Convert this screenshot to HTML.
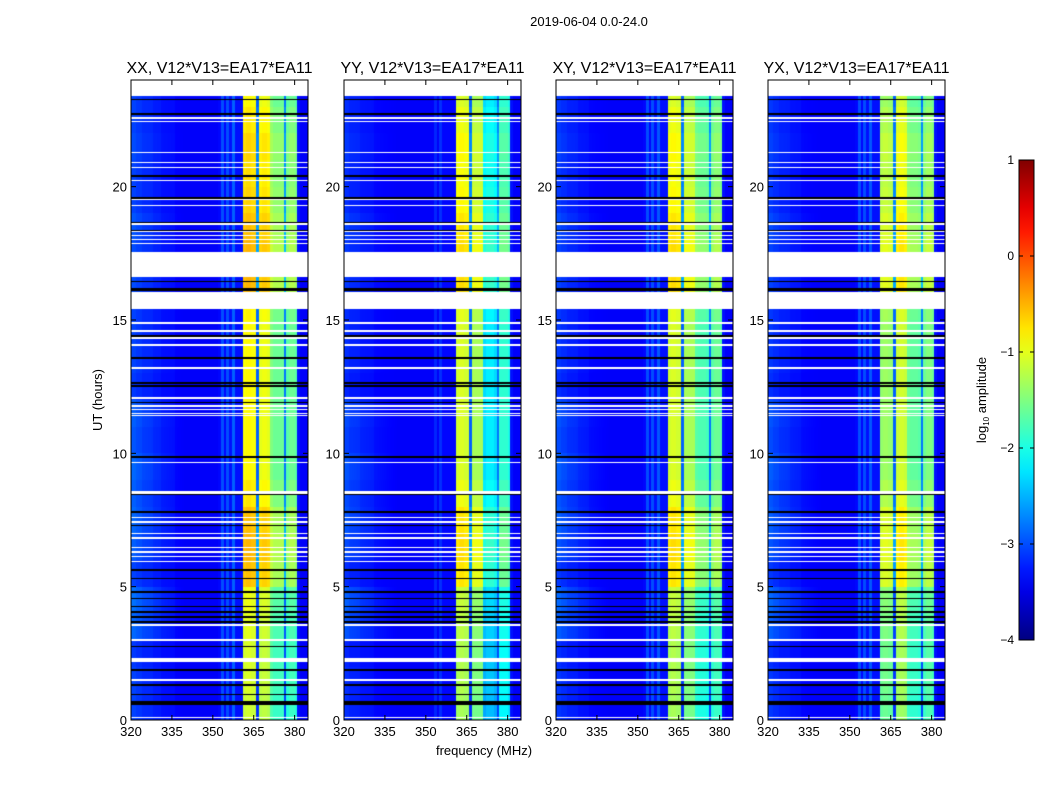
<!DOCTYPE html>
<html><head><meta charset="utf-8">
<style>
body{margin:0;background:#fff;width:1050px;height:800px;overflow:hidden;font-family:"Liberation Sans",sans-serif;}
</style></head>
<body>
<svg id="fig" width="1050" height="800" xmlns="http://www.w3.org/2000/svg" style="position:absolute;left:0;top:0">
<text x="589" y="26" font-size="13" text-anchor="middle" font-family="Liberation Sans">2019-06-04 0.0-24.0</text>
<text x="484" y="755" font-size="13" text-anchor="middle" font-family="Liberation Sans">frequency (MHz)</text>
<text x="102" y="400" font-size="13" text-anchor="middle" font-family="Liberation Sans" transform="rotate(-90 102 400)">UT (hours)</text>
<g id="panels"></g>
<g id="cbar"></g>
</svg>
<script>
// ---- data ----
const panelTitles = ["XX, V12*V13=EA17*EA11","YY, V12*V13=EA17*EA11","XY, V12*V13=EA17*EA11","YX, V12*V13=EA17*EA11"];
const xTicks = [320,335,350,365,380];
const yTicks = [0,5,10,15,20];
const cbTicks = [-4,-3,-2,-1,0,1];
// log10 amplitude per 1-MHz channel, 320..384 MHz
const specXX = [-3.15,-3.15,-3.2,-3.2,-3.25,-3.25,-3.25,-3.25,-3.3,-3.3,-3.3,-3.35,-3.35,-3.35,-3.35,-3.35,-3.4,-3.4,-3.4,-3.4,-3.4,-3.4,-3.4,-3.4,-3.4,-3.4,-3.4,-3.4,-3.4,-3.4,-3.4,-3.4,-3.35,-3.0,-3.35,-3.0,-3.3,-2.9,-3.3,-3.3,-3.3,-0.9,-0.85,-0.85,-0.9,-0.9,-2.9,-1.0,-0.95,-0.95,-1.0,-1.5,-1.6,-1.6,-1.6,-1.6,-2.8,-1.7,-1.6,-1.6,-1.7,-3.3,-3.4,-3.4,-3.4];
const specYY = [-3.25,-3.25,-3.3,-3.3,-3.3,-3.3,-3.35,-3.35,-3.35,-3.35,-3.35,-3.4,-3.4,-3.4,-3.4,-3.4,-3.4,-3.4,-3.4,-3.4,-3.4,-3.4,-3.4,-3.4,-3.4,-3.4,-3.4,-3.4,-3.4,-3.4,-3.4,-3.4,-3.4,-3.2,-3.4,-3.15,-3.35,-3.35,-3.35,-3.35,-3.35,-1.1,-1.05,-1.05,-1.1,-1.1,-2.9,-1.3,-1.3,-1.3,-1.3,-2.3,-2.2,-2.2,-2.2,-2.3,-2.8,-1.9,-1.9,-1.9,-2.0,-3.3,-3.4,-3.4,-3.4];
const specXY = [-3.2,-3.2,-3.25,-3.25,-3.3,-3.3,-3.3,-3.3,-3.35,-3.35,-3.35,-3.35,-3.4,-3.4,-3.4,-3.4,-3.4,-3.4,-3.4,-3.4,-3.4,-3.4,-3.4,-3.4,-3.4,-3.4,-3.4,-3.4,-3.4,-3.4,-3.4,-3.4,-3.35,-3.0,-3.35,-3.0,-3.3,-2.95,-3.3,-3.3,-3.3,-1.1,-1.05,-1.05,-1.1,-1.1,-2.9,-1.3,-1.3,-1.3,-1.3,-1.7,-1.75,-1.75,-1.75,-1.8,-2.8,-1.7,-1.6,-1.6,-1.7,-3.3,-3.4,-3.4,-3.4];
const specYX = [-3.2,-3.2,-3.25,-3.25,-3.3,-3.3,-3.3,-3.3,-3.35,-3.35,-3.35,-3.35,-3.4,-3.4,-3.4,-3.4,-3.4,-3.4,-3.4,-3.4,-3.4,-3.4,-3.4,-3.4,-3.4,-3.4,-3.4,-3.4,-3.4,-3.4,-3.4,-3.4,-3.35,-3.0,-3.35,-3.0,-3.3,-2.95,-3.3,-3.3,-3.3,-1.4,-1.35,-1.35,-1.4,-1.4,-2.9,-1.15,-1.1,-1.1,-1.15,-1.6,-1.65,-1.65,-1.65,-1.7,-2.8,-1.6,-1.5,-1.5,-1.6,-3.3,-3.4,-3.4,-3.4];
// per-hour offsets (hour 0..23)
const bandGain = [-0.25,-0.2,-0.2,-0.15,-0.1,0.3,0.35,0.3,0.1,0.0,0.0,0.0,0.0,0.0,0.0,0.05,0.35,0.35,0.3,0.2,0.15,0.2,0.1,0.0];
const lowGain  = [0.1,0.1,0.05,0.3,0.35,0.1,0.25,0.3,0.25,0.3,0.2,0.25,0.05,0.1,0.1,0.1,0.15,0.15,0.2,0.1,0.1,0.15,0.1,0.1];
// flagged (white) hour intervals
const whiteStart = [23.4,22.55,22.42,21.25,20.87,20.7,20.2,19.5,19.27,18.57,18.3,18.15,18.0,17.85,16.6,15.4,14.86,14.56,14.3,14.04,13.18,12.05,11.75,11.63,11.48,11.4,9.62,8.47,7.58,7.4,6.98,6.8,6.45,6.27,6.1,5.93,3.54,2.98,2.18,1.48,0.08];
const whiteEnd   = [24.0,22.6,22.47,21.3,20.92,20.75,20.25,19.55,19.32,18.62,18.35,18.2,18.05,17.9,17.55,16.05,14.91,14.61,14.35,14.09,13.23,12.1,11.8,11.68,11.53,11.45,9.67,8.6,7.63,7.45,7.03,6.85,6.5,6.32,6.15,5.98,3.59,3.03,2.32,1.53,0.13];
// black (zero) hour intervals
const blackStart = [23.25,22.7,20.38,19.55,18.62,18.3,16.43,16.1,14.38,13.55,12.61,12.5,11.88,9.84,8.45,7.78,7.26,5.6,5.27,4.78,4.52,4.22,4.03,3.84,3.65,2.72,1.85,1.29,0.92,0.58];
const blackEnd   = [23.3,22.75,20.43,19.6,18.67,18.37,16.48,16.2,14.43,13.6,12.66,12.55,11.93,9.89,8.5,7.83,7.31,5.65,5.32,4.83,4.57,4.27,4.08,3.89,3.7,2.77,1.9,1.34,0.97,0.7];

// ---- layout ----
const panelX = [131,344,556,768], PW=177, PY=80, PH=640;
const fMin=320,fMax=384.9,tMin=0,tMax=24,vMin=-4,vMax=1;
const specs=[specXX,specYY,specXY,specYX];
function xs(f){return (f-fMin)/(fMax-fMin)*PW;}
function ys(t){return PH-(t-tMin)/(tMax-tMin)*PH;}
function clamp(v){return Math.max(0,Math.min(1,v));}
function jet(v){const t=clamp((v-vMin)/(vMax-vMin));return [clamp(1.5-Math.abs(4*t-3)),clamp(1.5-Math.abs(4*t-2)),clamp(1.5-Math.abs(4*t-1))].map(c=>Math.round(c*255));}
function inList(h,s,e){for(let i=0;i<s.length;i++){if(h>=s[i]&&h<e[i])return true;}return false;}
const NS="http://www.w3.org/2000/svg";
function el(tag,attrs,parent){const e=document.createElementNS(NS,tag);for(const k in attrs)e.setAttribute(k,attrs[k]);parent.appendChild(e);return e;}
const gp=document.getElementById('panels');
const cv=document.createElement('canvas');cv.width=PW;cv.height=PH;const cx=cv.getContext('2d');

specs.forEach((spec,p)=>{
  const g=el('g',{},gp);
  
  
  const img=cx.createImageData(PW,PH);
  for(let y=0;y<PH;y++){
    const h=tMax-(y+0.5)/PH*(tMax-tMin);
    const white=inList(h,whiteStart,whiteEnd), black=inList(h,blackStart,blackEnd);
    const hi=Math.min(23,Math.floor(h));
    for(let x=0;x<PW;x++){
      const f=fMin+(x+0.5)/PW*(fMax-fMin);
      const ci=Math.min(spec.length-1,Math.floor(f-fMin));
      let rgb;
      if(white)rgb=[255,255,255];else if(black)rgb=[0,0,0];
      else{let v=spec[ci];
        if(f>=361&&f<381)v+=bandGain[hi];else if(f<340)v+=lowGain[hi]*(340-f)/20;
        rgb=jet(v);}
      const o=(y*PW+x)*4;img.data[o]=rgb[0];img.data[o+1]=rgb[1];img.data[o+2]=rgb[2];img.data[o+3]=255;
    }
  }
  cx.putImageData(img,0,0);
  const im=el('image',{x:panelX[p],y:PY,width:PW,height:PH,href:cv.toDataURL()},g);
  
  
  const fr=el('rect',{x:panelX[p],y:PY,width:PW,height:PH,fill:'none',stroke:'#000','stroke-width':1},g);
  
  
  const tt=el('text',{x:panelX[p]+PW/2,y:73,'font-size':16,'text-anchor':'middle','font-family':'Liberation Sans'},g);
  tt.textContent=panelTitles[p];
  
  
  xTicks.forEach(v=>{const X=panelX[p]+xs(v);
    el('line',{x1:X,x2:X,y1:PY+PH,y2:PY+PH-5,stroke:'#000'},g);
    el('line',{x1:X,x2:X,y1:PY,y2:PY+5,stroke:'#000'},g);
    const t=el('text',{x:X,y:PY+PH+16,'font-size':13,'text-anchor':'middle','font-family':'Liberation Sans'},g);t.textContent=v;
    
    });
  yTicks.forEach(v=>{const Y=PY+ys(v);
    el('line',{x1:panelX[p],x2:panelX[p]+5,y1:Y,y2:Y,stroke:'#000'},g);
    el('line',{x1:panelX[p]+PW,x2:panelX[p]+PW-5,y1:Y,y2:Y,stroke:'#000'},g);
    const t=el('text',{x:panelX[p]-4,y:Y+5,'font-size':13,'text-anchor':'end','font-family':'Liberation Sans'},g);t.textContent=v;
    
    });
});

// colorbar
const cb=document.getElementById('cbar');
const CBX=1019,CBY=160,CBW=15,CBH=480;
const defs=el('defs',{},cb);
const lg=el('linearGradient',{id:'jetg',x1:0,y1:1,x2:0,y2:0},defs);
for(let i=0;i<=20;i++){const v=vMin+(vMax-vMin)*i/20;const c=jet(v);el('stop',{offset:i/20,'stop-color':`rgb(${c})`},lg);}
const cr=el('rect',{x:CBX,y:CBY,width:CBW,height:CBH,fill:'url(#jetg)',stroke:'#000'},cb);


cbTicks.forEach(v=>{const Y=CBY+CBH-(v-vMin)/(vMax-vMin)*CBH;
  el('line',{x1:CBX,x2:CBX+4,y1:Y,y2:Y,stroke:'#000'},cb);
  el('line',{x1:CBX+CBW,x2:CBX+CBW-4,y1:Y,y2:Y,stroke:'#000'},cb);
  const t=el('text',{x:CBX-5,y:Y+4,'font-size':12,'text-anchor':'end','font-family':'Liberation Sans'},cb);t.textContent=(v<0?'\u2212'+(-v):v);
  
  });
const cl=el('text',{x:986,y:400,'font-size':13,'text-anchor':'middle','font-family':'Liberation Sans',transform:'rotate(-90 986 400)'},cb);
cl.innerHTML='log<tspan font-size="8" dy="3">10</tspan><tspan dy="-3"> amplitude</tspan>';


</script>
</body></html>
